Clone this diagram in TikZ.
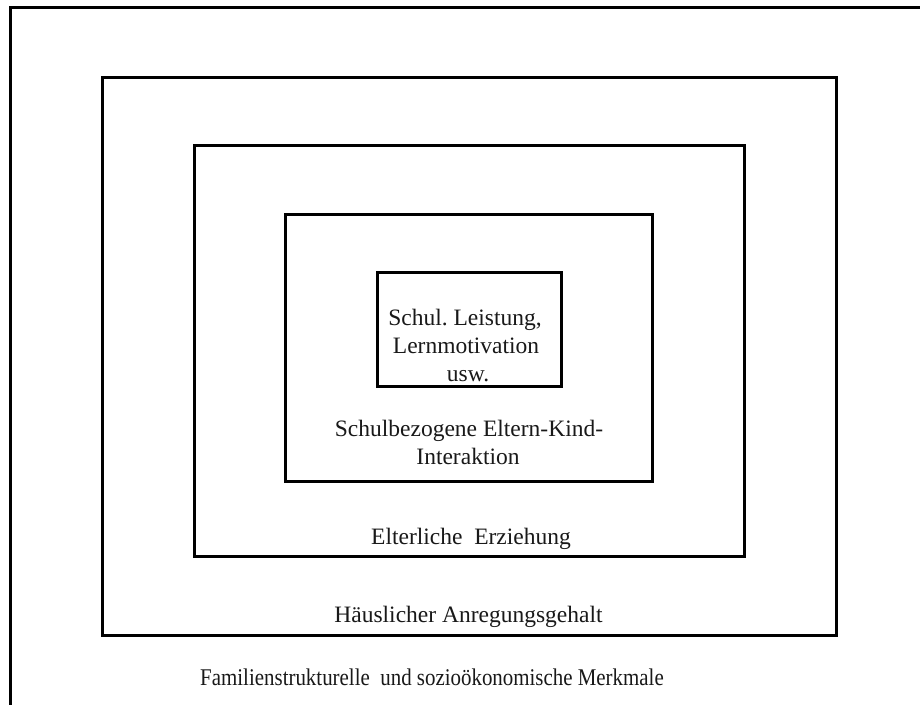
\documentclass[tikz,border=0pt]{standalone}
\usepackage{fontspec}
\usepackage{graphicx}
\setmainfont{Liberation Serif}
\frenchspacing
\tikzset{
  box/.style={draw=black, line width=3pt, inner sep=0pt, outer sep=0pt, anchor=north west},
  lbl/.style={anchor=base, inner sep=0pt, font=\fontsize{23.5}{28}\selectfont, text=black!90}
}
\begin{document}
\begin{tikzpicture}[x=1pt, y=-1pt]
  \useasboundingbox (0,0) rectangle (920,704);
  \clip (0,0) rectangle (920,704);
  \fill[white] (0,0) rectangle (920,704);
  % outermost frame (only top and left edge visible)
  \coordinate (otr) at (925,7.5);
  \coordinate (otl) at (10.5,7.5);
  \coordinate (obl) at (10.5,712);
  \draw[line width=3pt] (otr) -- (otl) -- (obl);
  % nested boxes
  \node[box, minimum width=734pt, minimum height=557.5pt] (haus) at (102,77.5) {};
  \node[box, minimum width=550pt, minimum height=410.5pt] (erz) at (194,145.5) {};
  \node[box, minimum width=367pt, minimum height=266.5pt] (inter) at (285,214.5) {};
  \node[box, minimum width=184pt, minimum height=114pt] (leist) at (377,272) {};
  % labels
  \node[lbl] (t1a) at (465,325) {Schul.~Leistung,};
  \node[lbl] (t1b) at (466,353) {Lernmotivation};
  \node[lbl] (t1c) at (468,381) {usw.};
  \node[lbl] (t2a) at (469,436) {Schulbezogene Eltern-Kind-};
  \node[lbl] (t2b) at (468,464) {Interaktion};
  \node[lbl] (t3) at (471,544.5) {Elterliche\ \ Erziehung};
  \node[lbl] (t4) at (468.5,622) {Häuslicher Anregungsgehalt};
  \node[lbl] (t5) at (432,685.7) {\scalebox{0.89}[1.02]{Familienstrukturelle\ \ und sozioökonomische Merkmale}};
\end{tikzpicture}
\end{document}
